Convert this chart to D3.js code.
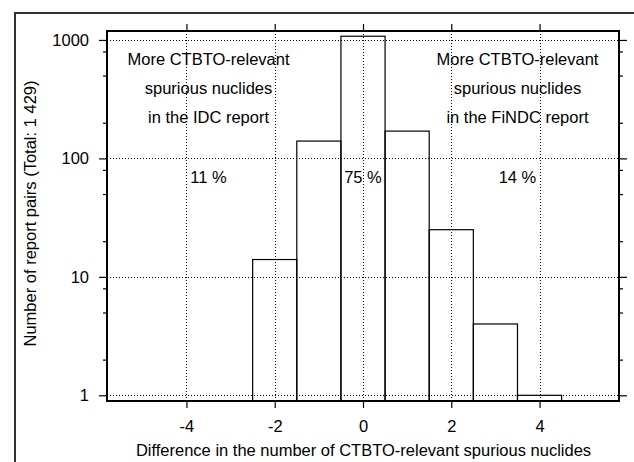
<!DOCTYPE html>
<html>
<head>
<meta charset="utf-8">
<script src="https://cdnjs.cloudflare.com/ajax/libs/d3/7.8.5/d3.min.js"></script>
<style>
  body { margin: 0; background: #fff; }
  svg text { font-family: "Liberation Sans", Arial, sans-serif; fill: #000; }
</style>
</head>
<body>
<div id="chart"></div>
<script>
// Histogram data: difference in the number of spurious nuclides -> report pairs
const differences = [-2, -1, 0, 1, 2, 3, 4];
const counts = [14, 140, 1075, 170, 25, 4, 1];
const majorY = [1, 10, 100, 1000];
const minorY = [2, 5, 8, 20, 50, 80, 200, 500, 800];
const xTicks = [-4, -2, 0, 2, 4];
const noteLines = ['More CTBTO-relevant', 'spurious nuclides'];
const notes = [
  { x: -3.5, lines: [...noteLines, 'in the IDC report'] },
  { x: 3.5, lines: [...noteLines, 'in the FiNDC report'] }
];
const shares = [
  { x: -3.5, label: '11 %' },
  { x: 0, label: '75 %' },
  { x: 3.5, label: '14 %' }
];

const w = 634;
const h = 462;
const pLeft = 107, pRight = 619, pTop = 31, pBottom = 401;

const svg = d3.select('#chart')
  .append('svg')
  .attr('width', w)
  .attr('height', h);

// outer frame
svg.append('rect')
  .attr('x', 15)
  .attr('y', 13)
  .attr('width', w)
  .attr('height', h)
  .attr('fill', 'none')
  .attr('stroke', '#333')
  .attr('stroke-width', 2);

const xScale = d3.scaleLinear().domain([-5.8, 5.8]).range([pLeft, pRight]);
const yScale = d3.scaleLog().domain([0.895, 1190]).range([pBottom, pTop]);

// bars
svg.selectAll('.bar')
  .data(differences)
  .enter()
  .append('rect')
  .attr('class', 'bar')
  .attr('x', d => xScale(d - 0.5))
  .attr('width', d => xScale(d + 0.5) - xScale(d - 0.5))
  .attr('y', (d, i) => yScale(counts[i]))
  .attr('height', (d, i) => pBottom - yScale(counts[i]))
  .attr('fill', 'none')
  .attr('stroke', '#000')
  .attr('stroke-width', 1.2);

// dotted grid
const grid = svg.append('g')
  .attr('stroke', '#000')
  .attr('stroke-width', 1)
  .attr('stroke-dasharray', '1,2');
grid.selectAll('.gx')
  .data(xTicks)
  .enter()
  .append('line')
  .attr('x1', d => Math.round(xScale(d)) + 0.5)
  .attr('x2', d => Math.round(xScale(d)) + 0.5)
  .attr('y1', pTop)
  .attr('y2', pBottom);
grid.selectAll('.gy')
  .data(majorY)
  .enter()
  .append('line')
  .attr('y1', d => Math.round(yScale(d)) + 0.5)
  .attr('y2', d => Math.round(yScale(d)) + 0.5)
  .attr('x1', pLeft)
  .attr('x2', pRight);

// axes
const fmt = d => String(d);
function styleAxis(g) {
  g.select('.domain').remove();
  g.selectAll('.tick line').attr('stroke', '#000').attr('stroke-width', 1.2);
  g.selectAll('.tick text').style('font-size', '16.5px');
}
svg.append('g')
  .attr('transform', 'translate(0,' + pBottom + ')')
  .call(d3.axisBottom(xScale).tickValues(xTicks).tickSize(7).tickPadding(12).tickFormat(fmt))
  .call(styleAxis);
svg.append('g')
  .attr('transform', 'translate(0,' + pTop + ')')
  .call(d3.axisTop(xScale).tickValues(xTicks).tickSize(7).tickFormat(''))
  .call(styleAxis);
svg.append('g')
  .attr('transform', 'translate(' + pLeft + ',0)')
  .call(d3.axisLeft(yScale).tickValues(majorY).tickSize(8).tickPadding(10).tickFormat(fmt))
  .call(styleAxis);
svg.append('g')
  .attr('transform', 'translate(' + pLeft + ',0)')
  .call(d3.axisLeft(yScale).tickValues(minorY).tickSize(4).tickFormat(''))
  .call(styleAxis);
svg.append('g')
  .attr('transform', 'translate(' + pRight + ',0)')
  .call(d3.axisRight(yScale).tickValues(majorY).tickSize(8).tickFormat(''))
  .call(styleAxis);
svg.append('g')
  .attr('transform', 'translate(' + pRight + ',0)')
  .call(d3.axisRight(yScale).tickValues(minorY).tickSize(4).tickFormat(''))
  .call(styleAxis);

// plot frame
svg.append('rect')
  .attr('x', pLeft)
  .attr('y', pTop)
  .attr('width', pRight - pLeft)
  .attr('height', pBottom - pTop)
  .attr('fill', 'none')
  .attr('stroke', '#000')
  .attr('stroke-width', 2);

// annotations
notes.forEach(n => {
  svg.append('text')
    .attr('text-anchor', 'middle')
    .style('font-size', '16.5px')
    .selectAll('tspan')
    .data(n.lines)
    .enter()
    .append('tspan')
    .attr('x', xScale(n.x))
    .attr('y', (d, i) => 64.5 + i * 29)
    .text(d => d);
});
svg.selectAll('.share')
  .data(shares)
  .enter()
  .append('text')
  .attr('class', 'share')
  .attr('x', d => xScale(d.x))
  .attr('y', 183)
  .attr('text-anchor', 'middle')
  .style('font-size', '16.5px')
  .text(d => d.label);

// axis titles
svg.append('text')
  .attr('x', 363.5)
  .attr('y', 456)
  .attr('text-anchor', 'middle')
  .style('font-size', '16.5px')
  .text('Difference in the number of CTBTO-relevant spurious nuclides');
svg.append('text')
  .attr('transform', 'translate(36,213.5) rotate(-90)')
  .attr('text-anchor', 'middle')
  .style('font-size', '16.5px')
  .text('Number of report pairs (Total: 1 429)');
</script>
</body>
</html>
